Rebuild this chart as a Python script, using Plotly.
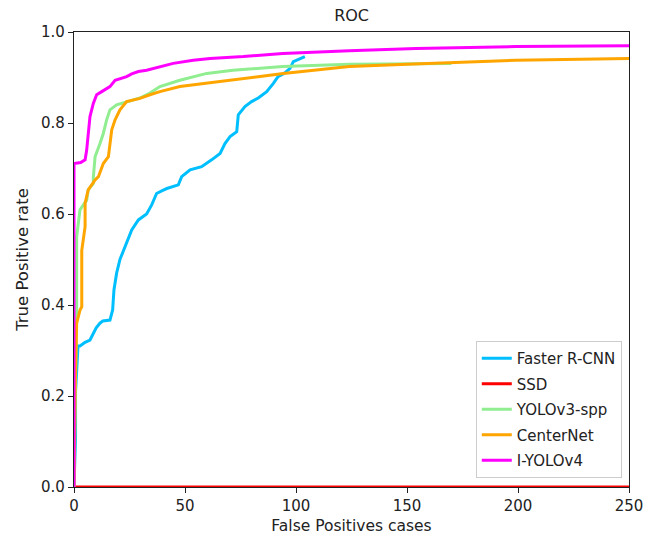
import plotly.graph_objects as go

# ---- data ----
frcnn_x = [0, 0.7, 0.7, 1.4, 1.8, 2.7, 5, 7.2, 8.7, 10, 11.7, 13, 16.2, 17.4, 18, 19.2, 20.7, 23, 24.5, 26, 29, 32.7, 35,
           37.2, 40, 41.8, 47, 48.5, 52.3, 57.5, 62, 65.8, 68, 70.3, 73.3, 74, 77, 80, 83, 86.8, 89.8, 91.9, 95, 97.3,
           98.8, 101, 104]
frcnn_y = [0, 0.11, 0.21, 0.27, 0.31, 0.31, 0.318, 0.323, 0.338, 0.35, 0.36, 0.365, 0.367, 0.389, 0.433, 0.47, 0.50,
           0.528, 0.545, 0.565, 0.587, 0.60, 0.62, 0.645, 0.652, 0.656, 0.664, 0.682, 0.697, 0.704, 0.719, 0.733, 0.755,
           0.77, 0.781, 0.818, 0.836, 0.847, 0.855, 0.869, 0.887, 0.902, 0.91, 0.92, 0.935, 0.94, 0.946]

ssd_x = [0, 250]
ssd_y = [0, 0]

yolo3_x = [0, 1.2, 1.2, 2, 2.7, 4.2, 5.7, 6.4, 8.7, 8.7, 9.5, 11.7, 13.2, 14.7, 16.2, 19.2, 23.7, 29.7, 34.2, 38.7,
           47.7, 59.8, 71.6, 83.8, 94, 124, 170]
yolo3_y = [0, 0.40, 0.55, 0.587, 0.609, 0.62, 0.63, 0.653, 0.667, 0.68, 0.726, 0.755, 0.777, 0.807, 0.829, 0.84,
           0.847, 0.855, 0.866, 0.88, 0.894, 0.909, 0.916, 0.92, 0.924, 0.929, 0.931]

center_x = [0, 0.5, 1.2, 1.8, 2.7, 3.5, 3.5, 5, 5, 6.4, 9.5, 11, 11.7, 13.2, 15.5, 17, 18.5, 20.7, 23.7, 29.7, 34.2,
            38.7, 47.7, 59.8, 71.8, 83.8, 94.3, 124, 150, 169, 199, 250]
center_y = [0, 0.21, 0.36, 0.374, 0.389, 0.396, 0.52, 0.572, 0.624, 0.653, 0.675, 0.682, 0.69, 0.711, 0.726, 0.785,
            0.807, 0.829, 0.847, 0.854, 0.862, 0.869, 0.88, 0.887, 0.894, 0.902, 0.909, 0.924, 0.929, 0.933, 0.938,
            0.942]

iyolo4_x = [0, 0, 3, 5, 5.7, 6.5, 7.2, 8.7, 10.2, 12.5, 16.2, 18.5, 23.7, 26, 29, 32.7, 38.7, 44.7, 53.7, 61.3, 76.3,
            94, 124, 154, 199, 250]
iyolo4_y = [0, 0.711, 0.713, 0.719, 0.74, 0.78, 0.814, 0.843, 0.862, 0.869, 0.88, 0.894, 0.902, 0.908, 0.913, 0.916,
            0.924, 0.931, 0.938, 0.942, 0.946, 0.953, 0.959, 0.964, 0.968, 0.97]

x_ticks = [0, 50, 100, 150, 200, 250]
y_ticks = [0.0, 0.2, 0.4, 0.6, 0.8, 1.0]

series = [
    ("Faster R-CNN", frcnn_x, frcnn_y, "#00BFFF"),
    ("SSD", ssd_x, ssd_y, "#FF0000"),
    ("YOLOv3-spp", yolo3_x, yolo3_y, "#90EE90"),
    ("CenterNet", center_x, center_y, "#FFA500"),
    ("I-YOLOv4", iyolo4_x, iyolo4_y, "#FF00FF"),
]

fig = go.Figure()
for name, xs, ys, col in series:
    fig.add_trace(go.Scatter(x=xs, y=ys, mode="lines", name=name, legendgroup=name,
                             line=dict(color=col, width=3)))

font = "DejaVu Sans, sans-serif"
fig.update_layout(
    width=664, height=544,
    margin=dict(l=74, r=35, t=32, b=57, autoexpand=False),
    paper_bgcolor="white", plot_bgcolor="white",
    font=dict(family=font, size=15, color="#222222"),
    title=dict(text="ROC", x=0.5295, xanchor="center", y=1 - 15 / 544, yanchor="middle",
               font=dict(size=16, color="#222222")),
    showlegend=True,
    legend=dict(x=0.987, y=0.02, xanchor="right", yanchor="bottom",
                bordercolor="#cccccc", borderwidth=1, bgcolor="rgba(255,255,255,0.9)",
                font=dict(size=15, color="#222222"), tracegroupgap=3, traceorder="grouped"),
)
fig.update_xaxes(range=[0, 250], tickvals=x_ticks, ticks="outside", ticklen=5, tickcolor="#222",
                 showline=True, linecolor="#222", linewidth=1.2, mirror=True, showgrid=False, zeroline=False,
                 automargin=False,
                 title=dict(text="False Positives cases", standoff=6, font=dict(size=15.5)))
fig.update_yaxes(range=[0, 1], tickvals=y_ticks, tickformat=".1f", ticks="outside", ticklen=5, tickcolor="#222",
                 showline=True, linecolor="#222", linewidth=1.2, mirror=True, showgrid=False, zeroline=False,
                 automargin=False,
                 title=dict(text="True Positive rate", standoff=8, font=dict(size=16.5)))

fig.write_html("out.html", config={"displayModeBar": False},
               post_script="document.body.style.margin='0px';document.body.style.overflow='hidden';")
